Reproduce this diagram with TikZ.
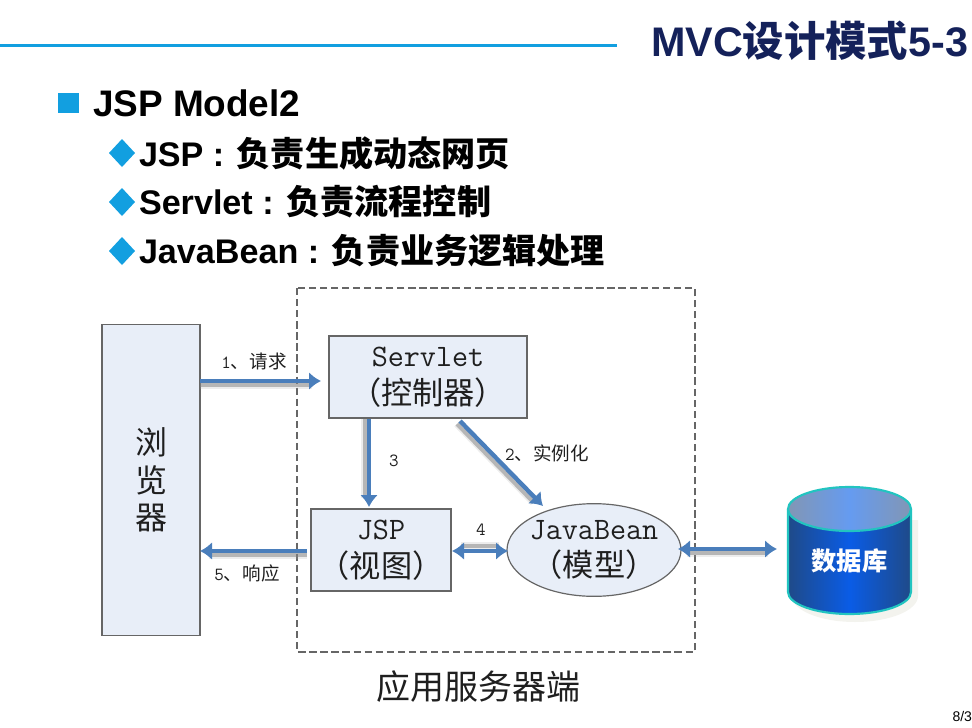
\documentclass[tikz,border=0pt]{standalone}
\usepackage{fontspec}
\setmainfont{Liberation Sans}
\newfontfamily\cjk{Noto Sans CJK SC}
\usetikzlibrary{arrows.meta,shapes.geometric,calc}
\definecolor{barblue}{HTML}{129FE0}
\definecolor{titleblue}{HTML}{14215A}
\definecolor{boxfill}{HTML}{E8EEF8}
\definecolor{boxline}{HTML}{666666}
\definecolor{arrowblue}{HTML}{4A7EBB}
\definecolor{dbteal}{HTML}{22C4C0}
\definecolor{dbside}{HTML}{1F4A88}
\definecolor{dbmid}{HTML}{0A5CE6}
\definecolor{dbtopside}{HTML}{8296B4}
\definecolor{dbtopmid}{HTML}{659BF0}
\definecolor{dbshadow}{HTML}{F3F3EE}
\tikzset{
  txt/.style={inner sep=0pt,outer sep=0pt,align=center,text=black!88},
  head/.style={inner sep=0pt,outer sep=0pt,anchor=west,text=black,font=\bfseries\cjk\fontsize{25.6pt}{30pt}\selectfont},
  boxnode/.style={draw=boxline,fill=boxfill,line width=1.1pt,inner sep=0pt,align=center,text=black!88},
  big/.style={font=\fontsize{23.4pt}{28.4pt}\selectfont},
  small/.style={txt,font=\cjk\fontsize{13.9pt}{16pt}\selectfont},
  flow/.style={draw=arrowblue,line width=3.3pt,-{Latex[length=9pt,width=13.5pt]}},
  flowboth/.style={draw=arrowblue,line width=3.3pt,{Latex[length=9pt,width=13.5pt]}-{Latex[length=9pt,width=13.5pt]}},
  shade1/.style={draw=black!50,line width=3pt,opacity=.5,shorten >=7pt},
  shade2/.style={draw=black!35,line width=5.5pt,opacity=.2,shorten >=7pt},
  shadeb/.style={shorten <=7pt},
  tick/.style={fill=barblue,draw=none}
}
\newcommand\cj[1]{{\cjk #1}}
\begin{document}
\begin{tikzpicture}[x=0.75pt,y=-0.75pt]
\useasboundingbox (0,0) rectangle (972,728);
% header
\fill[barblue] (0,43.5) rectangle (617,46.8);
\node[txt,anchor=east,text=titleblue,font=\bfseries\cjk\fontsize{31pt}{36pt}\selectfont] (title) at (968,41) {{\rmfamily MVC}设计模式{\rmfamily 5-3}};
% bullets
\fill[tick] (58,93) rectangle (79,113);
\fill[tick] (122,139) -- (135,153) -- (122,167) -- (109,153) -- cycle;
\fill[tick] (122,188) -- (135,202) -- (122,216) -- (109,202) -- cycle;
\fill[tick] (122,237) -- (135,251) -- (122,265) -- (109,251) -- cycle;
\node[head,font=\bfseries\fontsize{27.7pt}{30pt}\selectfont] (h0) at (93,103) {JSP Model2};
\node[head] (h1) at (139,153) {{\rmfamily JSP : }\hspace{2.2pt}负责生成动态网页};
\node[head] (h2) at (139,202) {{\rmfamily Servlet : }负责流程控制};
\node[head] (h3) at (139,251) {{\rmfamily JavaBean : }负责业务逻辑处理};
% server frame
\draw[draw=black!60,line width=.9pt,dash pattern=on 5.5pt off 2.8pt] (297,288) rectangle (695,652);
\node[txt,font=\cjk\fontsize{25.5pt}{30pt}\selectfont] (serverlabel) at (478,687) {应用服务器端};
% boxes
\node[boxnode,minimum width=73.5pt,minimum height=233pt,font=\cjk\fontsize{24pt}{28pt}\selectfont] (browser) at (151,480) {浏\\览\\器};
\node[boxnode,big,minimum width=148.5pt,minimum height=61.5pt] (servlet) at (428,377) {{\ttfamily Servlet}\\\cj{（控制器）}};
\node[boxnode,big,minimum width=105pt,minimum height=61.5pt] (jsp) at (381,550) {{\ttfamily JSP}\\\cj{（视图）}};
\node[boxnode,big,ellipse,line width=.9pt,inner sep=-12pt,minimum width=130.5pt,minimum height=69.5pt] (bean) at (594,550) {{\ttfamily JavaBean}\\\cj{（模型）}};
% database
\fill[dbshadow] (792,520) -- (792,596) arc[start angle=180,end angle=0,x radius=63,y radius=26] -- (918,520) -- cycle;
\path[left color=dbside,right color=dbside,middle color=dbmid] (788,509) -- (788,592) arc[start angle=180,end angle=0,x radius=61.5,y radius=22] -- (911,509) -- cycle;
\draw[dbteal,line width=1.6pt] (788,509) -- (788,592) arc[start angle=180,end angle=0,x radius=61.5,y radius=22] -- (911,509);
\path[left color=dbtopside,right color=dbtopside,middle color=dbtopmid] (849.5,509) ellipse[x radius=61.5,y radius=22];
\draw[dbteal,line width=1.6pt] (849.5,509) ellipse[x radius=61.5,y radius=22];
\node[txt,text=white,font=\bfseries\cjk\fontsize{19pt}{24pt}\selectfont] (db) at (849.5,561) {数据库};
% connector ends
\coordinate (a1s) at (200,381);
\coordinate (a1e) at (321,381);
\coordinate (a3s) at (369,419);
\coordinate (a3e) at (369,507);
\coordinate (a2s) at (460,421);
\coordinate (a2e) at (543,506);
\coordinate (a5s) at (307,551);
\coordinate (a5e) at (200,551);
\coordinate (a4s) at (452,551);
\coordinate (a4e) at (508,551);
\coordinate (a6s) at (678,549);
\coordinate (a6e) at (777,549);
% shadows
\foreach \p/\q/\dx/\dy in {a1s/a1e/0/4,a3s/a3e/-4/0,a2s/a2e/-3/3,a5s/a5e/0/4}{
  \draw[shade2] ($(\p)+(\dx,\dy)$) -- ($(\q)+(\dx,\dy)$);
  \draw[shade1] ($(\p)+(\dx,\dy)$) -- ($(\q)+(\dx,\dy)$);
}
\foreach \p/\q/\dx/\dy in {a4s/a4e/0/-5,a6s/a6e/0/4}{
  \draw[shade2,shadeb] ($(\p)+(\dx,\dy)$) -- ($(\q)+(\dx,\dy)$);
  \draw[shade1,shadeb] ($(\p)+(\dx,\dy)$) -- ($(\q)+(\dx,\dy)$);
}
% connectors
\draw[flow] (a1s) -- (a1e);
\draw[flow] (a3s) -- (a3e);
\draw[flow] (a2s) -- (a2e);
\draw[flow] (a5s) -- (a5e);
\draw[flowboth] (a4s) -- (a4e);
\draw[flowboth] (a6s) -- (a6e);
% labels
\node[small] (l1) at (254,361) {{\ttfamily 1}、请求};
\node[small] (l2) at (547,453) {{\ttfamily 2}、实例化};
\node[small] (l3) at (394,461) {\ttfamily 3};
\node[small] (l4) at (481,530) {\ttfamily 4};
\node[small] (l5) at (247,573) {{\ttfamily 5}、响应};
\node[txt,anchor=east,text=black,font=\fontsize{10.5pt}{12pt}\selectfont] (page) at (972,716) {8/3};
\end{tikzpicture}
\end{document}
